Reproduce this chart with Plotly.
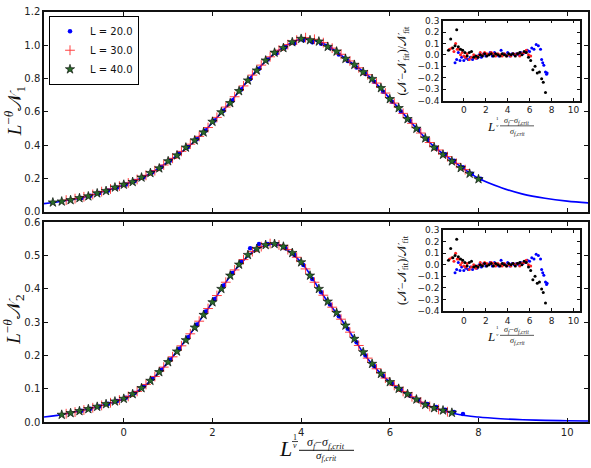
import plotly.graph_objects as go

W, H = 591, 468

# ---------------- data ----------------
fit_x_top = [-1.8, -1.5, -1.0, -0.5, 0.0, 0.5, 1.0, 1.5, 2.0, 2.5, 3.0, 3.5, 4.0, 4.5, 5.0,
             5.5, 6.0, 6.5, 7.0, 7.5, 8.0, 8.5, 9.0, 9.5, 10.0, 10.5]
fit_y_top = [0.048, 0.058, 0.08, 0.118, 0.16, 0.215, 0.30, 0.40, 0.535, 0.69, 0.85, 0.97, 1.035,
             1.01, 0.92, 0.82, 0.68, 0.53, 0.39, 0.29, 0.20, 0.145, 0.105, 0.08, 0.063, 0.052]

fit_x_bot = [-1.8, -1.5, -1.0, -0.5, 0.0, 0.5, 1.0, 1.5, 2.0, 2.5, 3.0, 3.4, 3.5, 4.0, 4.5,
             5.0, 5.5, 6.0, 6.5, 7.0, 7.5, 8.0, 8.5, 9.0, 9.5, 10.0, 10.5]
fit_y_bot = [0.015, 0.02, 0.033, 0.05, 0.07, 0.112, 0.18, 0.265, 0.36, 0.455, 0.52, 0.535, 0.533,
             0.48, 0.38, 0.29, 0.19, 0.12, 0.075, 0.042, 0.024, 0.015, 0.01, 0.007, 0.005, 0.004, 0.003]

top_x_L20 = [-0.95, -0.75, -0.55, -0.35, -0.15, 0.05, 0.25, 0.45, 0.65, 0.85, 1.05, 1.25, 1.45,
             1.65, 1.85, 2.05, 2.25, 2.45, 2.65, 2.85, 3.05, 3.25, 3.45, 3.65, 3.85, 4.05, 4.25,
             4.45, 4.65, 4.85, 5.05, 5.25, 5.45, 5.65, 5.85, 6.05, 6.25, 6.45, 6.65, 6.85, 7.05,
             7.25, 7.45, 7.65, 7.85, 8.05]
top_y_L20 = [0.082, 0.095, 0.111, 0.126, 0.144, 0.163, 0.184, 0.207, 0.236, 0.268, 0.307, 0.349,
             0.388, 0.434, 0.487, 0.548, 0.606, 0.668, 0.733, 0.797, 0.858, 0.913, 0.952, 0.988,
             1.012, 1.03, 1.018, 1.008, 0.983, 0.944, 0.905, 0.866, 0.826, 0.78, 0.72, 0.66,
             0.602, 0.548, 0.492, 0.434, 0.384, 0.345, 0.305, 0.266, 0.228, 0.198]

top_x_L30 = [-1.3, -1.1, -0.9, -0.7, -0.5, -0.3, -0.1, 0.1, 0.3, 0.5, 0.7, 0.9, 1.1, 1.3, 1.5,
             1.7, 1.9, 2.1, 2.3, 2.5, 2.7, 2.9, 3.1, 3.3, 3.5, 3.7, 3.9, 4.1, 4.3, 4.5, 4.7, 4.9,
             5.1, 5.3, 5.5, 5.7, 5.9, 6.1, 6.3, 6.5, 6.7, 6.9, 7.1, 7.3, 7.5, 7.7]
top_y_L30 = [0.069, 0.078, 0.089, 0.103, 0.12, 0.136, 0.153, 0.172, 0.193, 0.218, 0.246, 0.28,
             0.32, 0.362, 0.405, 0.452, 0.505, 0.566, 0.628, 0.69, 0.755, 0.82, 0.88, 0.93, 0.97,
             1.003, 1.03, 1.045, 1.035, 1.015, 0.982, 0.945, 0.905, 0.864, 0.822, 0.772, 0.712,
             0.652, 0.59, 0.53, 0.472, 0.415, 0.37, 0.33, 0.29, 0.252]

top_x_L40 = [-1.6, -1.4, -1.2, -1.0, -0.8, -0.6, -0.4, -0.2, 0.0, 0.2, 0.4, 0.6, 0.8, 1.0, 1.2,
             1.4, 1.6, 1.8, 2.0, 2.2, 2.4, 2.6, 2.8, 3.0, 3.2, 3.4, 3.6, 3.8, 4.0, 4.2, 4.4, 4.6,
             4.8, 5.0, 5.2, 5.4, 5.6, 5.8, 6.0, 6.2, 6.4, 6.6, 6.8, 7.0, 7.2, 7.4, 7.6, 7.8, 8.0]
top_y_L40 = [0.055, 0.061, 0.069, 0.081, 0.092, 0.11, 0.124, 0.145, 0.162, 0.178, 0.205, 0.232,
             0.26, 0.303, 0.338, 0.385, 0.428, 0.476, 0.54, 0.597, 0.652, 0.724, 0.788, 0.848,
             0.908, 0.955, 0.983, 1.018, 1.038, 1.03, 1.022, 0.99, 0.962, 0.918, 0.882, 0.838,
             0.797, 0.742, 0.676, 0.622, 0.556, 0.498, 0.44, 0.385, 0.342, 0.302, 0.262, 0.228,
             0.195]

bot_x_L20 = [-0.95, -0.75, -0.55, -0.35, -0.15, 0.05, 0.25, 0.45, 0.65, 0.85, 1.05, 1.25, 1.45,
             1.65, 1.85, 2.05, 2.25, 2.45, 2.65, 2.85, 3.05, 3.25, 3.45, 3.65, 3.85, 4.05, 4.25,
             4.45, 4.65, 4.85, 5.05, 5.25, 5.45, 5.65, 5.85, 6.05, 6.25, 6.45, 6.65, 6.85, 7.05,
             7.25, 7.45, 7.65]
bot_y_L20 = [0.034, 0.04, 0.047, 0.055, 0.063, 0.073, 0.087, 0.107, 0.13, 0.157, 0.188, 0.22,
             0.255, 0.293, 0.332, 0.37, 0.41, 0.448, 0.482, 0.522, 0.535, 0.535, 0.534, 0.522,
             0.502, 0.472, 0.43, 0.39, 0.353, 0.318, 0.28, 0.24, 0.2, 0.168, 0.138, 0.116, 0.097,
             0.08, 0.066, 0.054, 0.045, 0.037, 0.03, 0.024]

bot_x_L30 = [-1.3, -1.1, -0.9, -0.7, -0.5, -0.3, -0.1, 0.1, 0.3, 0.5, 0.7, 0.9, 1.1, 1.3, 1.5,
             1.7, 1.9, 2.1, 2.3, 2.5, 2.7, 2.9, 3.1, 3.3, 3.5, 3.7, 3.9, 4.1, 4.3, 4.5, 4.7, 4.9,
             5.1, 5.3, 5.5, 5.7, 5.9, 6.1, 6.3, 6.5, 6.7, 6.9, 7.1, 7.3]
bot_y_L30 = [0.025, 0.03, 0.036, 0.043, 0.05, 0.058, 0.066, 0.077, 0.092, 0.113, 0.137, 0.165,
             0.196, 0.229, 0.265, 0.303, 0.341, 0.38, 0.42, 0.457, 0.488, 0.512, 0.527, 0.536,
             0.532, 0.518, 0.495, 0.46, 0.42, 0.381, 0.345, 0.309, 0.27, 0.23, 0.192, 0.16,
             0.132, 0.11, 0.092, 0.076, 0.06, 0.047, 0.038, 0.031]

bot_x_L40 = [-1.4, -1.2, -1.0, -0.8, -0.6, -0.4, -0.2, 0.0, 0.2, 0.4, 0.6, 0.8, 1.0, 1.2, 1.4,
             1.6, 1.8, 2.0, 2.2, 2.4, 2.6, 2.8, 3.0, 3.2, 3.4, 3.6, 3.8, 4.0, 4.2, 4.4, 4.6, 4.8,
             5.0, 5.2, 5.4, 5.6, 5.8, 6.0, 6.2, 6.4, 6.6, 6.8, 7.0, 7.2, 7.4]
bot_y_L40 = [0.022, 0.027, 0.033, 0.039, 0.046, 0.054, 0.062, 0.07, 0.084, 0.102, 0.124, 0.15,
             0.18, 0.212, 0.246, 0.284, 0.322, 0.36, 0.4, 0.44, 0.473, 0.502, 0.52, 0.532, 0.535,
             0.527, 0.508, 0.48, 0.44, 0.4, 0.362, 0.328, 0.29, 0.25, 0.21, 0.175, 0.145, 0.12,
             0.1, 0.084, 0.068, 0.052, 0.042, 0.035, 0.028]

res_x_L20 = [-0.8, -0.65, -0.5, -0.35, -0.2, 0.0, 0.2, 0.4, 0.6, 0.8, 1.0, 1.2, 1.4, 1.6, 1.8,
             2.0, 2.2, 2.4, 2.6, 2.8, 3.0, 3.2, 3.4, 3.6, 3.8, 4.0, 4.2, 4.4, 4.6, 4.8, 5.0, 5.2,
             5.4, 5.6, 5.8, 6.0, 6.2, 6.4, 6.6, 6.8, 7.0, 7.1, 7.2, 7.3, 7.45, 7.55, 7.6]
res_y_L20 = [-0.07, -0.04, 0.02, -0.05, -0.02, -0.05, -0.03, -0.04, -0.02, -0.04, -0.01, -0.03,
             0.0, -0.02, 0.01, -0.01, 0.0, 0.02, -0.01, 0.02, 0.0, -0.01, 0.04, 0.01, 0.0, 0.02,
             -0.01, 0.01, 0.0, 0.01, 0.0, 0.02, 0.01, 0.02, 0.04, 0.03, 0.06, 0.05, 0.09, 0.08,
             0.05, -0.04, -0.07, -0.09, -0.15, -0.17, -0.16]

res_x_L30 = [-1.3, -1.1, -0.9, -0.75, -0.6, -0.45, -0.3, -0.15, 0.0, 0.15, 0.3, 0.5, 0.7, 0.9,
             1.1, 1.3, 1.5, 1.7, 1.9, 2.1, 2.3, 2.5, 2.7, 2.9, 3.1, 3.3, 3.5, 3.7, 3.9, 4.1, 4.3,
             4.5, 4.7, 4.9, 5.1, 5.3, 5.5, 5.7, 5.9, 6.1]
res_y_L30 = [0.05, 0.06, 0.03, 0.1, 0.05, 0.05, 0.0, 0.02, -0.01, -0.02, 0.01, -0.04, -0.02, 0.0,
             -0.03, -0.01, 0.02, 0.0, 0.02, 0.01, 0.0, 0.02, 0.01, -0.01, 0.01, 0.0, -0.01, 0.01,
             -0.01, 0.0, -0.01, 0.01, 0.0, 0.01, -0.01, 0.01, 0.02, 0.04, 0.0, -0.01]

res_x_L40 = [-1.4, -1.2, -1.0, -0.8, -0.65, -0.5, -0.3, -0.1, 0.1, 0.3, 0.5, 0.7, 0.9, 1.1, 1.3,
             1.5, 1.7, 1.9, 2.1, 2.3, 2.5, 2.7, 2.9, 3.1, 3.3, 3.5, 3.7, 3.9, 4.1, 4.3, 4.5, 4.7,
             4.9, 5.1, 5.3, 5.5, 5.7, 5.9, 6.1, 6.3, 6.5, 6.7, 6.9, 7.1, 7.25, 7.45]
res_y_L40 = [0.04, 0.14, 0.06, 0.08, 0.22, 0.07, 0.05, 0.04, 0.02, -0.01, 0.02, 0.03, -0.02,
             -0.01, -0.02, 0.0, -0.01, 0.01, -0.01, 0.0, 0.01, -0.01, 0.01, 0.0, -0.01, 0.01, 0.0,
             -0.01, 0.01, 0.0, 0.01, -0.01, 0.01, 0.02, 0.0, 0.03, 0.02, -0.02, -0.05, -0.13,
             -0.1, -0.16, -0.15, -0.21, -0.24, -0.33]

labels = ["L = 20.0", "L = 30.0", "L = 40.0"]

main_xticks = [0, 2, 4, 6, 8, 10]
top_yticks = [0.0, 0.2, 0.4, 0.6, 0.8, 1.0, 1.2]
bot_yticks = [0.0, 0.1, 0.2, 0.3, 0.4, 0.5, 0.6]
ins_yticks = [-0.4, -0.3, -0.2, -0.1, 0.0, 0.1, 0.2, 0.3]

# ---------------- helpers ----------------
def px(x):
    return x / W

def py(y):
    return 1 - y / H

BLUE = "#0000ff"
RED = "#ff2020"
GREEN = "#2a6a2a"

fig = go.Figure()

def add_panel(xa, ya, fx, fy, d20, d30, d40, showleg):
    fig.add_trace(go.Scatter(x=fx, y=fy, mode="lines", line=dict(color=BLUE, width=1.6, shape="spline", smoothing=1.0),
                             xaxis=xa, yaxis=ya, showlegend=False, hoverinfo="skip"))
    fig.add_trace(go.Scatter(x=d20[0], y=d20[1], mode="markers", name=labels[0],
                             marker=dict(symbol="circle", size=4.5, color=BLUE, line=dict(width=0)),
                             xaxis=xa, yaxis=ya, showlegend=showleg))
    fig.add_trace(go.Scatter(x=d30[0], y=d30[1], mode="markers", name=labels[1],
                             marker=dict(symbol="cross-thin", size=7, color=RED, line=dict(width=1, color=RED)),
                             opacity=0.85, xaxis=xa, yaxis=ya, showlegend=showleg))
    fig.add_trace(go.Scatter(x=d40[0], y=d40[1], mode="markers", name=labels[2],
                             marker=dict(symbol="star", size=7, color=GREEN, line=dict(width=0.6, color="black")),
                             xaxis=xa, yaxis=ya, showlegend=showleg))

add_panel("x", "y", fit_x_top, fit_y_top, (top_x_L20, top_y_L20), (top_x_L30, top_y_L30),
          (top_x_L40, top_y_L40), True)
add_panel("x2", "y2", fit_x_bot, fit_y_bot, (bot_x_L20, bot_y_L20), (bot_x_L30, bot_y_L30),
          (bot_x_L40, bot_y_L40), False)

for xa, ya in (("x3", "y3"), ("x4", "y4")):
    for rx, ry, col in ((res_x_L20, res_y_L20, BLUE), (res_x_L30, res_y_L30, RED),
                        (res_x_L40, res_y_L40, "black")):
        fig.add_trace(go.Scatter(x=rx, y=ry, mode="markers",
                                 marker=dict(size=3, color=col, line=dict(width=0)),
                                 xaxis=xa, yaxis=ya, showlegend=False))

TICKFONT = dict(family="DejaVu Sans", size=10, color="#222")
INSFONT = dict(family="DejaVu Sans", size=9, color="#222")

def axstyle(**kw):
    d = dict(showline=True, linecolor="#111", linewidth=1.5, mirror="ticks", ticks="inside",
             ticklen=4, tickwidth=1, tickcolor="#111", showgrid=False, zeroline=False)
    d.update(kw)
    return d

XR = [-1.8, 10.47]
IXR = [-1.9, 10.6]

fig.update_layout(
    width=W, height=H, margin=dict(l=0, r=0, t=0, b=0),
    paper_bgcolor="white", plot_bgcolor="white",
    xaxis=axstyle(domain=[px(44), px(588)], range=XR, tickvals=main_xticks, showticklabels=False,
                  anchor="y"),
    yaxis=axstyle(domain=[py(211), py(6)], range=[0, 1.2], tickvals=top_yticks,
                  ticktext=[f"{v:.1f}" for v in top_yticks], tickfont=TICKFONT, anchor="x"),
    xaxis2=axstyle(domain=[px(44), px(588)], range=XR, tickvals=main_xticks, tickfont=TICKFONT,
                   anchor="y2"),
    yaxis2=axstyle(domain=[py(427), py(222)], range=[0, 0.6], tickvals=bot_yticks,
                   ticktext=[f"{v:.1f}" for v in bot_yticks], tickfont=TICKFONT, anchor="x2"),
    xaxis3=axstyle(domain=[px(443), px(580)], range=IXR, tickvals=main_xticks, tickfont=INSFONT,
                   ticklen=3, anchor="y3"),
    yaxis3=axstyle(domain=[py(97), py(15)], range=[-0.4, 0.3], tickvals=ins_yticks,
                   ticktext=[f"{v:.1f}".replace("-", "\u2212") for v in ins_yticks],
                   tickfont=INSFONT, ticklen=3, anchor="x3"),
    xaxis4=axstyle(domain=[px(443), px(580)], range=IXR, tickvals=main_xticks, tickfont=INSFONT,
                   ticklen=3, anchor="y4"),
    yaxis4=axstyle(domain=[py(313), py(230)], range=[-0.4, 0.3], tickvals=ins_yticks,
                   ticktext=[f"{v:.1f}".replace("-", "\u2212") for v in ins_yticks],
                   tickfont=INSFONT, ticklen=3, anchor="x4"),
    legend=dict(x=px(49), y=py(10), xanchor="left", yanchor="top", bgcolor="white",
                bordercolor="black", borderwidth=1, font=dict(family="DejaVu Sans", size=10, color="#111"),
                tracegroupgap=0, itemwidth=30),
)

SERIF = "Liberation Serif"
ann = []
shapes = []

def text(x, y, s, size, angle=0):
    ann.append(dict(x=px(x), y=py(y), xref="paper", yref="paper", text=s, showarrow=False,
                    font=dict(family=SERIF, size=size, color="#111"), textangle=angle,
                    xanchor="center", yanchor="middle"))

def hline(x0, x1, y, w=1):
    shapes.append(dict(type="line", xref="paper", yref="paper", x0=px(x0), x1=px(x1), y0=py(y), y1=py(y),
                       line=dict(color="#111", width=w)))

N = "\U0001D4A9"
text(14, 108, f"<i>L</i><sup>\u2212<i>θ</i></sup>{N}<sub>1</sub>", 19, -90)
text(14, 322, f"<i>L</i><sup>\u2212<i>θ</i></sup>{N}<sub>2</sub>", 19, -90)

# main x label
text(285, 454, "<i>L</i>", 22)
text(295, 443, "1", 8)
hline(292, 298, 447, 0.8)
text(295, 451, "<i>ν</i>", 8)
text(326, 448, "<i>σ<sub>f</sub></i>\u2212<i>σ<sub>f,crit</sub></i>", 12)
hline(299, 354, 456, 1)
text(326, 462, "<i>σ<sub>f,crit</sub></i>", 11)

# inset labels
for dy in (0, 215):
    text(403, 56 + dy, f"({N}\u2212{N}<sub>fit</sub>)/{N}<sub>fit</sub>", 12, -90)
    text(491, 124 + dy, "<i>L</i>", 13)
    text(497, 119 + dy, "1<br><i>ν</i>", 5)
    text(516, 118 + dy, "<i>σ<sub>f</sub></i>\u2212<i>σ<sub>f,crit</sub></i>", 8)
    hline(500, 534, 123 + dy, 0.7)
    text(517, 129 + dy, "<i>σ<sub>f,crit</sub></i>", 8)

fig.update_layout(annotations=ann, shapes=shapes)

fig.write_html("out.html")
